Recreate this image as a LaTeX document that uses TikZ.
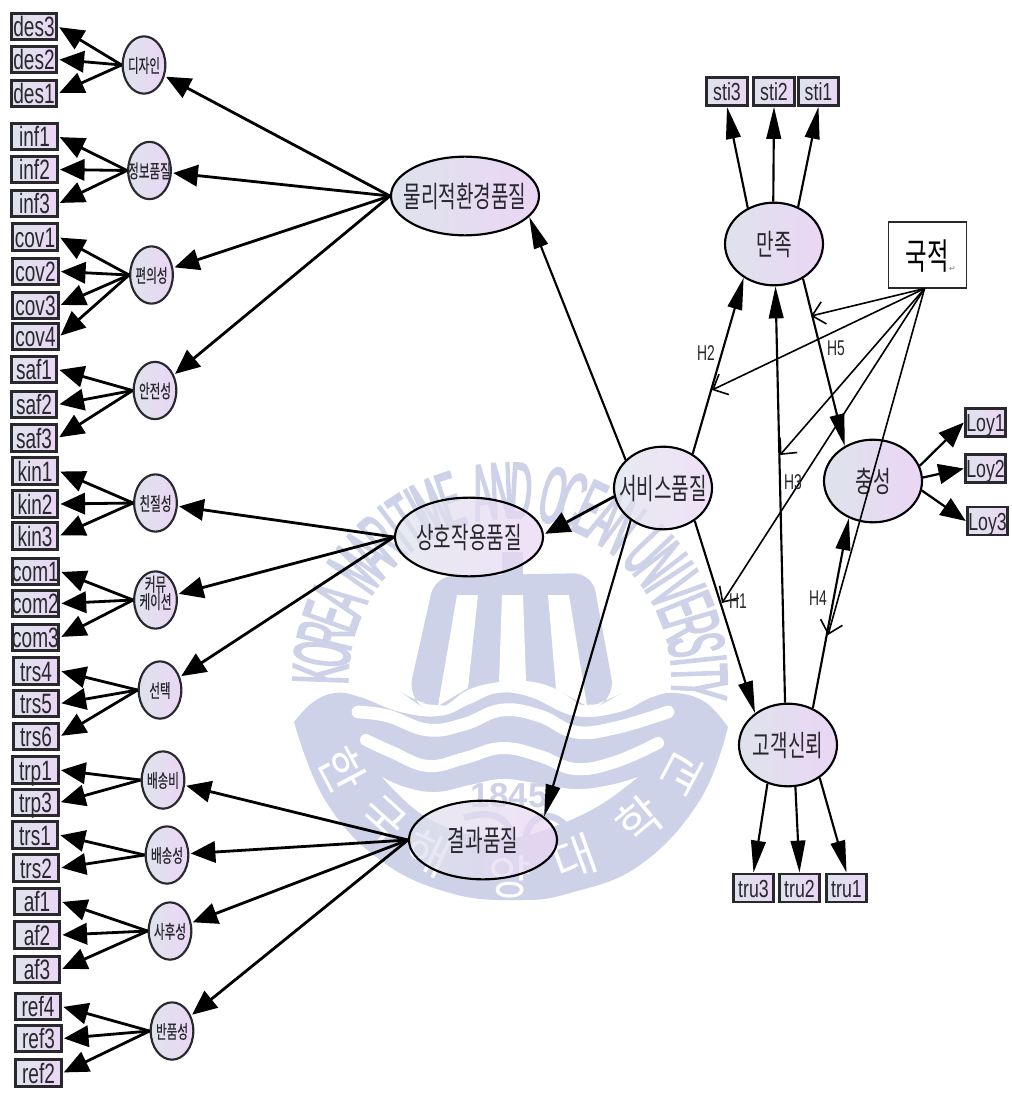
\documentclass[tikz,border=0pt]{standalone}
\usepackage{fontspec}
\setmainfont{Liberation Sans}
\newfontfamily\boxfont[FakeStretch=.68]{Liberation Sans}
\newfontfamily\boxfontb[FakeStretch=.72]{Liberation Sans}
\newfontfamily\hfont[FakeStretch=.65]{Liberation Sans}
\newfontfamily\wmfont[FakeStretch=.38,FakeBold=2.2]{Liberation Sans}
\newfontfamily\krbig[FakeStretch=.65]{Noto Sans CJK KR}
\newfontfamily\krsmall[FakeStretch=.62,FakeBold=.4]{Noto Sans CJK KR}
\newfontfamily\krplain{Noto Sans CJK KR}
\newfontfamily\djv{DejaVu Sans}
\usetikzlibrary{arrows.meta,shapes.geometric}
\definecolor{wm}{RGB}{205,210,232}
\definecolor{fl}{RGB}{222,227,236}
\definecolor{fr}{RGB}{235,214,245}
\definecolor{ink}{RGB}{40,40,45}
\newcommand\ctr[1]{\makebox[0pt][c]{\raisebox{-.4em}[0pt][0pt]{#1}}}
\tikzset{
  x=.75pt,y=-.75pt,
  obsbox/.style={draw=ink,line width=2.1pt,rectangle,left color=fl,right color=fr,inner sep=0pt,minimum width=34pt,minimum height=20pt,text=ink,font=\boxfont\fontsize{21}{22}\selectfont,text height=15pt,text depth=0pt},
  obsboxb/.style={obsbox,minimum width=30.5pt,minimum height=21pt,font=\boxfontb\fontsize{18.5}{19}\selectfont,text height=13.5pt},
  small/.style={ellipse,draw=ink,line width=1.6pt,left color=fl,right color=fr,inner sep=0pt,minimum width=32pt,minimum height=43pt,text=ink,font=\krsmall\fontsize{14}{15}\selectfont},
  big/.style={ellipse,draw=black,line width=1.6pt,left color=fl,right color=fr,inner sep=0pt,minimum width=111pt,minimum height=59pt,text=ink,font=\krbig\fontsize{22}{23}\selectfont},
  mid/.style={big,minimum width=73.5pt,minimum height=62pt},
  seethru/.style={fill opacity=.72,text opacity=1,draw opacity=1},
  arr/.style={draw=black,line width=2.1pt,-{Triangle[length=18.5pt,width=16pt]},shorten >=1pt},
  arrb/.style={draw=black,line width=1.6pt,-{Triangle[length=24pt,width=11pt]}},
  arrc/.style={draw=black,line width=1.7pt,-{Triangle[length=19pt,width=15pt]}},
  barb/.style={draw=black,line width=1.2pt,-{Straight Barb[length=9pt,width=17pt,line width=1.2pt]}},
  hlab/.style={font=\hfont\fontsize{16}{17}\selectfont,text=ink,inner sep=0pt},
  wmletter/.style={font=\wmfont\fontsize{60}{60}\selectfont,text=wm,inner sep=0pt,anchor=base},
  wmhangul/.style={font=\krplain\fontsize{35}{36}\selectfont,text=white,inner sep=0pt},
}
\begin{document}
\begin{tikzpicture}
\useasboundingbox (0,0) rectangle (1012,1095);
\fill[white] (0,0) rectangle (1012,1095);
% ---------- watermark ----------
\fill[wm] (502,552) rectangle (523,580);
\fill[wm,rounded corners=14pt] (408,697) -- (435,576) -- (592,573) -- (615,697) -- (606,702) -- (587,706) -- (438,706) -- (415,702) -- cycle;
\fill[white] (457,595) -- (478,595) -- (468,688) -- (438,706) -- cycle;
\fill[white] (502,595) -- (523,595) -- (526,681) -- (499,682) -- cycle;
\fill[white] (548,595) -- (569,595) -- (587,706) -- (556,689) -- cycle;
\fill[white] plot[smooth,tension=.7] coordinates {(400,715)(440,708)(468,690)(499,682)(526,681)(556,689)(587,708)(620,715)} -- (620,725) -- (400,725) -- cycle;
\fill[wm] plot[smooth,tension=.7] coordinates {(294,722)(312,703)(335,693)(360,697)(400,712)(440,716)(470,704)(498,693)(530,697)(575,716)(620,712)(650,698)(675,693)(705,702)(728,727)}
  -- plot[smooth,tension=.7] coordinates {(728,727)(700,800)(640,865)(570,893)(518,900)(450,893)(380,860)(325,800)(294,722)} -- cycle;
\draw[white,line width=9.5pt,line cap=round] plot[smooth,tension=.7] coordinates {(358,712)(388,716)(428,730)(465,724)(502,710)(540,716)(575,732)(615,728)(668,712)};
\draw[white,line width=9pt,line cap=round] plot[smooth,tension=.7] coordinates {(366,740)(392,752)(428,766)(465,758)(502,748)(540,756)(575,769)(615,762)(658,743)};
\fill[white] plot[smooth,tension=.7] coordinates {(382,777)(405,787)(436,792)(470,785)(502,779)(535,783)(575,789)(610,785)(638,777)}
  -- plot[smooth,tension=.7] coordinates {(638,777)(600,805)(555,826)(510,838)(465,833)(420,813)(382,777)} -- cycle;
\node[font=\fontsize{26}{27}\selectfont\bfseries,text=wm,inner sep=0pt] (wmyear) at (509,796) {1845};
\draw[wm,line width=5pt] (464,818) .. controls (498,806) and (516,825) .. (512,848);
\draw[wm,line width=5pt] (526,848) .. controls (522,818) and (548,806) .. (566,826);
\foreach \hch/\hx/\hy/\hrot [count=\hi] in {한/342/770/-62,국/382/820/-42,해/428/853/-25,양/510/877/0,대/575/858/20,학/640/820/40,교/682/773/62}
  \node[wmhangul,rotate=\hrot] (wmh\hi) at (\hx,\hy) {\hch};
\gdef\wmang{178}
\foreach \lch/\wgt [count=\ci] in {K/1,O/1,R/1,E/1,A/1.7,M/1.1,A/1,R/.9,I/.7,T/.7,I/.7,M/1.1,E/1.7,A/1,N/1,D/1.7,O/1,C/1,E/1,A/1,N/1.7,U/1,N/.8,I/.8,V/1,E/1,R/1,S/.8,I/.7,T/.8,Y/1}{
  \pgfmathsetmacro\wmx{510+162*cos(\wmang)}
  \pgfmathsetmacro\wmy{680-162*sin(\wmang)}
  \pgfmathsetmacro\wmrot{\wmang-90}
  \node[wmletter,rotate=\wmrot] (wmt\ci) at (\wmx,\wmy) {\lch};
  \pgfmathsetmacro\wmn{\wmang-5.85*\wgt}
  \xdef\wmang{\wmn}
}
% ---------- latent ----------
\node[big] (phys) at (465,196) {\ctr{물리적환경품질}};
\node[big,seethru] (inter) at (469,537) {\ctr{상호작용품질}};
\node[big,seethru] (outc) at (483,840) {\ctr{결과품질}};
\node[mid,seethru] (serv) at (663,488) {\ctr{서비스품질}};
\node[mid] (sat) at (774,244) {\ctr{만족}};
\node[mid] (loyal) at (873,481) {\ctr{충성}};
\node[mid] (trust) at (788,745) {\ctr{고객신뢰}};
\foreach \nn/\xx/\yy/\lbl in {c1/144/65/디자인,c2/149.5/170.5/정보품질,c3/151.5/275/편의성,c4/155/390.5/안전성,c5/155.5/503/친절성,c7/160/690/선택,c8/163/780/배송비,c9/167/855/배송성,c10/170/931/사후성,c11/172/1031/반품성}
  \node[small] (\nn) at (\xx,\yy) {\ctr{\lbl}};
\node[small] (c6) at (155.5,600) {\makebox[0pt][c]{\raisebox{0pt}[0pt][0pt]{\begin{tabular}[c]{@{}c@{}}커뮤\\[-3pt]케이션\end{tabular}}}};
% ---------- observed boxes ----------
\foreach \nn/\xx/\yy in {des3/34/26.5,des2/34/59.5,des1/34/93.5,inf1/34.5/136.5,inf2/34.5/169.5,inf3/34.5/203.5,cov1/35/237,cov2/35.5/271.5,cov3/35.5/305.5,cov4/35.5/336.5,saf1/34/369.5,saf2/34/404.5,saf3/34/438,kin1/35/471,kin2/35/504,kin3/35/536,com1/35.5/571.5,com2/35.5/603.5,com3/35.5/637.5,trs4/36/671,trs5/36/703.5,trs6/36/736.5,trp1/35.5/770,trp3/35.5/802.5}
  \node[obsbox] (\nn) at (\xx,\yy) {\nn};
\node[obsbox] (trs1) at (35,835) {trs1};
\node[obsbox] (trs2) at (36,868) {trs2};
\node[obsbox] (af1) at (37,901.5) {af1};
\node[obsbox] (af2) at (37,935) {af2};
\node[obsbox] (af3) at (37,969.5) {af3};
\node[obsbox] (ref4) at (38,1006.5) {ref4};
\node[obsbox] (ref3) at (38.5,1038.5) {ref3};
\node[obsbox] (ref2) at (38.5,1073) {ref2};
\foreach \nn/\xx/\yy in {sti3/727/91.5,sti2/774/91.5,sti1/818.5/91.5,tru3/753.5/888,tru2/799.5/888,tru1/846.5/888,Loy1/985.5/422.5,Loy2/985.5/468.5,Loy3/987.5/521}
  \node[obsboxb] (\nn) at (\xx,\yy) {\nn};
\node[draw=ink,line width=.8pt,fill=white,inner sep=0pt,minimum width=59pt,minimum height=49.5pt,font=\krbig\fontsize{27}{28}\selectfont,text=black] (nat) at (927.5,255) {\ctr{국적\rlap{\raisebox{-.05em}{\djv\fontsize{6}{6}\selectfont\color{gray}↵}}}};
% ---------- left connectors ----------
\foreach \cc/\bb in {c1/des3,c1/des2,c1/des1,c2/inf1,c2/inf2,c2/inf3,c3/cov1,c3/cov2,c3/cov3,c3/cov4,c4/saf1,c4/saf2,c4/saf3,c5/kin1,c5/kin2,c5/kin3,c6/com1,c6/com2,c6/com3,c7/trs4,c7/trs5,c7/trs6,c8/trp1,c8/trp3,c9/trs1,c9/trs2,c10/af1,c10/af2,c10/af3,c11/ref4,c11/ref3,c11/ref2}
  \draw[arr] (\cc.west) -- (\bb.east);
\foreach \cc in {c1,c2,c3,c4} \draw[arr] (phys.west) -- (\cc);
\foreach \cc in {c5,c6,c7} \draw[arr] (inter.west) -- (\cc);
\foreach \cc in {c8,c9,c10,c11} \draw[arr] (outc.west) -- (\cc);
% ---------- right connectors ----------
\draw[arrb] (serv.143) -- (phys.-18);
\draw[arr] (serv.190) -- (inter.2);
\draw[arrb] (serv.225) -- (outc.21);
\draw[arrb] (serv.49) -- (sat.228);
\draw[arrb] (serv.-46) -- (trust.136);
\draw[arrb] (trust.94) -- (sat.272);
\draw[arrb] (sat.-50) -- (loyal.129);
\draw[arrb] (trust.56) -- (loyal.237);
\draw[arrb] (sat.126) -- (sti3.south);
\draw[arrb] (sat.91) -- (sti2.south);
\draw[arrb] (sat.57) -- (sti1.south);
\draw[arrb] (trust.242) -- (tru3.north);
\draw[arrb] (trust.280) -- (tru2.north);
\draw[arrb] (trust.-46) -- (tru1.north);
\draw[arrc] (loyal.18) -- (Loy1.west);
\draw[arrc] (loyal.4) -- (Loy2.west);
\draw[arrc] (loyal.-11) -- (Loy3.west);
% ---------- moderator ----------
\coordinate (m1) at (811,316);
\coordinate (m2) at (712,390);
\coordinate (m3) at (780,455);
\coordinate (m4) at (722,603);
\coordinate (m5) at (828,635);
\foreach \mm in {m1,m2,m3,m4,m5} \draw[barb] (nat.265) -- (\mm);
% ---------- hypothesis labels ----------
\node[hlab] (h2) at (706,353) {H2};
\node[hlab] (h5) at (836,348) {H5};
\node[hlab] (h3) at (793,482) {H3};
\node[hlab] (h1) at (738,601) {H1};
\node[hlab] (h4) at (818,598) {H4};
\end{tikzpicture}
\end{document}
